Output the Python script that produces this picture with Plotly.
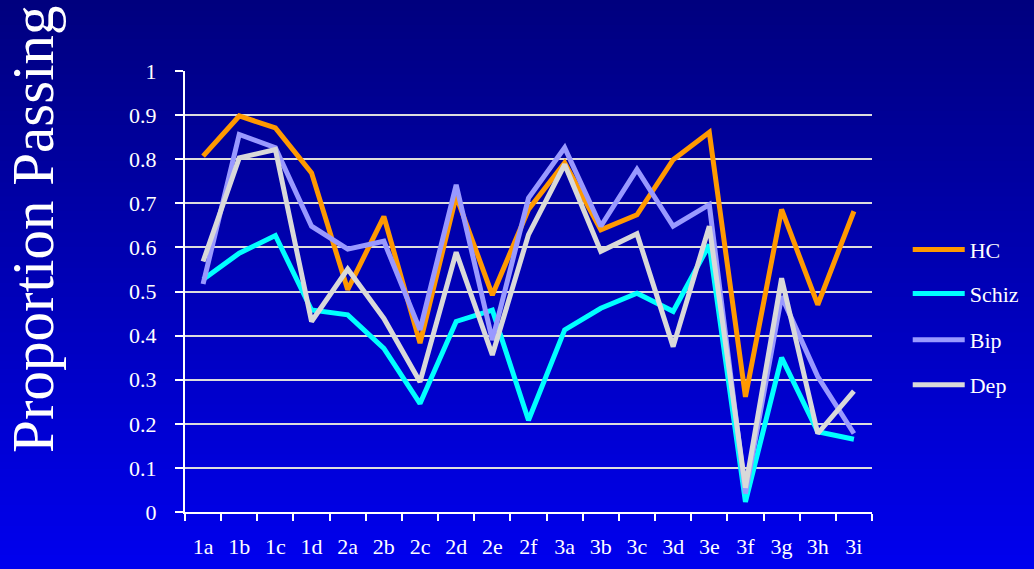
import plotly.graph_objects as go

categories = ["1a", "1b", "1c", "1d", "2a", "2b", "2c", "2d", "2e", "2f",
              "3a", "3b", "3c", "3d", "3e", "3f", "3g", "3h", "3i"]

hc = [0.807, 0.898, 0.871, 0.769, 0.504, 0.670, 0.383, 0.716, 0.492, 0.686,
      0.792, 0.640, 0.674, 0.799, 0.861, 0.261, 0.686, 0.470, 0.682]
schiz = [0.527, 0.587, 0.627, 0.458, 0.447, 0.371, 0.246, 0.432, 0.458, 0.208,
         0.413, 0.462, 0.496, 0.455, 0.606, 0.023, 0.350, 0.182, 0.165]
bip = [0.517, 0.856, 0.826, 0.648, 0.596, 0.614, 0.413, 0.742, 0.390, 0.712,
       0.826, 0.648, 0.777, 0.648, 0.697, 0.042, 0.489, 0.307, 0.178]
dep = [0.568, 0.803, 0.822, 0.432, 0.551, 0.439, 0.295, 0.589, 0.356, 0.629,
       0.788, 0.591, 0.631, 0.375, 0.648, 0.055, 0.530, 0.178, 0.274]

series = [("HC", hc, "#FF9900"), ("Schiz", schiz, "#00FFFF"),
          ("Bip", bip, "#9999FF"), ("Dep", dep, "#D9D9D9")]

font = "Liberation Serif, Times New Roman, serif"

fig = go.Figure()
legend_y = [0.595, 0.495, 0.39, 0.288]
for i, (name, vals, col) in enumerate(series):
    lg = "legend" if i == 0 else "legend%d" % (i + 1)
    fig.add_trace(go.Scatter(x=categories, y=vals, mode="lines", name=name,
                             line=dict(color=col, width=5), legend=lg,
                             showlegend=True))

# background gradient from dark navy to blue
n = 80
top = (0, 0, 126)
bot = (0, 0, 238)
y0, y1 = -0.13, 1.17
shapes = []
for k in range(n):
    t = k / (n - 1)
    c = tuple(int(round(bot[j] + (top[j] - bot[j]) * t)) for j in range(3))
    shapes.append(dict(type="rect", xref="paper", yref="paper", layer="below",
                       x0=-0.3, x1=1.3,
                       y0=y0 + (y1 - y0) * k / n, y1=y0 + (y1 - y0) * (k + 1) / n + 0.002,
                       fillcolor="rgb(%d,%d,%d)" % c, line=dict(width=0)))

legend_common = dict(x=1.052, xanchor="left", yanchor="middle",
                     font=dict(family=font, size=22, color="white"),
                     bgcolor="rgba(0,0,0,0)", itemwidth=52, visible=True)

fig.update_layout(
    width=1034, height=569,
    margin=dict(l=185, r=162, t=71, b=57, autoexpand=False),
    paper_bgcolor="#0000B0",
    plot_bgcolor="rgba(0,0,0,0)",
    showlegend=True,
    shapes=shapes,
    font=dict(family=font, color="white", size=22),
    legend=dict(y=legend_y[0], **legend_common),
    legend2=dict(y=legend_y[1], **legend_common),
    legend3=dict(y=legend_y[2], **legend_common),
    legend4=dict(y=legend_y[3], **legend_common),
    annotations=[dict(text="Proportion Passing", xref="paper", yref="paper",
                      x=-0.272, y=0.64, textangle=-90, showarrow=False,
                      font=dict(family=font, size=59, color="white"))],
)
fig.update_xaxes(range=[-0.5, 18.5], showgrid=False, showline=True,
                 linecolor="white", linewidth=2,
                 ticks="outside", tickson="boundaries", tickcolor="white",
                 ticklen=7, tickwidth=2, ticklabelstandoff=14,
                 tickfont=dict(family=font, size=22, color="white"))
fig.update_yaxes(range=[0, 1], dtick=0.1, showgrid=True, gridcolor="#DDDDDD",
                 gridwidth=2, zeroline=False, showline=True, linecolor="white",
                 linewidth=2, ticks="outside", tickcolor="white", ticklen=8,
                 tickwidth=2, ticklabelstandoff=14,
                 tickfont=dict(family=font, size=22, color="white"))

fig.write_html("out.html", config={"displayModeBar": False},
               post_script="document.body.style.margin='0';"
                           "document.body.style.overflow='hidden';")
